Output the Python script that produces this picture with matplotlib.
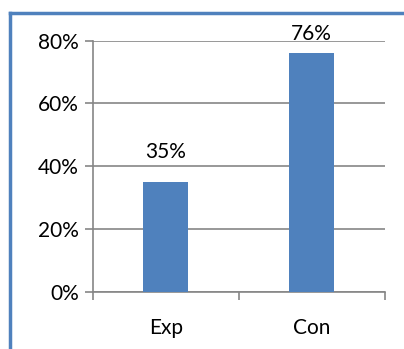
import matplotlib
matplotlib.use("Agg")
from matplotlib import pyplot as plt
from matplotlib.lines import Line2D

# Daten
groups = ["Exp", "Con"]
percent = [35, 76]
yticks = [0, 20, 40, 60, 80]

bar_color = "#4F81BD"
grey = "#868686"
fs = 15

plt.rcParams['font.family'] = ['Lato', 'DejaVu Sans']

fig = plt.figure(figsize=(4.04, 3.49), dpi=100)
ax = fig.add_axes([92.7 / 404, 1 - 291.7 / 349, 292 / 404, 251 / 349])

x_pos = range(len(groups))
bars = ax.bar(x_pos, percent, width=0.31, color=bar_color, zorder=3)

# Beschriftung über den Balken (Con etwas näher dran, wie im Original)
offsets = [14, 7]
for b, v, off in zip(bars, percent, offsets):
    ax.annotate(f"{v}%", (b.get_x() + b.get_width() / 2, v),
                xytext=(0, off), textcoords="offset points",
                ha="center", va="bottom", fontsize=fs, color="black")

ax.set_xlim(-0.5, len(groups) - 0.5)
ax.set_ylim(0, 80)
ax.set_yticks(yticks)
ax.set_yticklabels([f"{t}%" for t in yticks], fontsize=fs)
ax.yaxis.grid(True, color=grey, linewidth=1.2, zorder=0)

# Striche an den Kategoriegrenzen, Beschriftung in der Mitte
ax.set_xticks([-0.5, 0.5, 1.5])
ax.set_xticklabels([])
ax.set_xticks(list(x_pos), minor=True)
ax.set_xticklabels(groups, minor=True, fontsize=fs)
ax.tick_params(axis="x", which="major", length=6, width=1.2, color=grey)
ax.tick_params(axis="x", which="minor", length=0, pad=19)
ax.tick_params(axis="y", length=6, width=1.2, color=grey, pad=4)

for s in ["top", "right"]:
    ax.spines[s].set_visible(False)
for s in ["left", "bottom"]:
    ax.spines[s].set_color(grey)
    ax.spines[s].set_linewidth(1.2)

# blauer Rahmen oben und links
fig.add_artist(Line2D([10 / 404, 1.01], [1 - 13 / 349] * 2, color=bar_color, lw=2.5, transform=fig.transFigure))
fig.add_artist(Line2D([10 / 404] * 2, [-0.01, 1 - 13 / 349], color=bar_color, lw=2.5, transform=fig.transFigure))

fig.savefig("out.png", dpi=100)
